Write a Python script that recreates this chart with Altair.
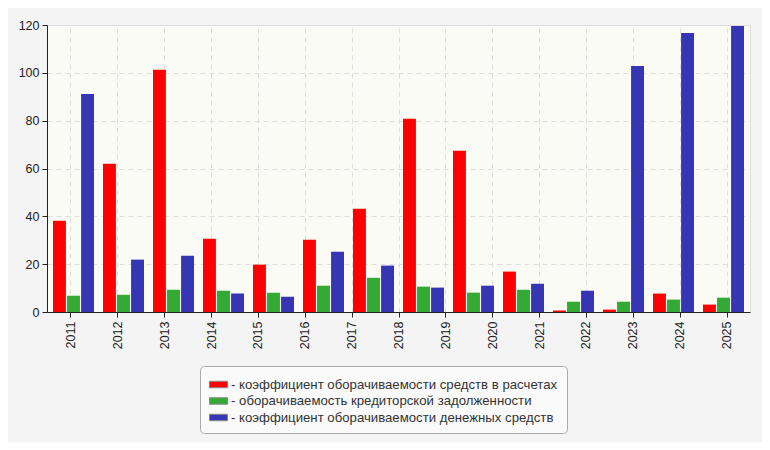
import altair as alt
import pandas as pd

# 14 data groups drawn as bars, 15 labels on the axis (as in the reference)
groups = [f"g{i}" for i in range(1, 15)]
year_labels = [str(y) for y in range(2011, 2026)]

series_names = [
    "коэффициент оборачиваемости средств в расчетах",
    "оборачиваемость кредиторской задолженности",
    "коэффициент оборачиваемости денежных средств",
]
colors = ["#FF0000", "#33AA33", "#3636B4"]

red_values = [38.2, 62.0, 101.3, 30.6, 19.8, 30.2, 43.2, 80.8, 67.4, 16.9, 0.6, 1.0, 7.7, 3.1]
green_values = [6.8, 7.2, 9.3, 8.9, 8.1, 11.0, 14.3, 10.6, 8.1, 9.3, 4.3, 4.3, 5.2, 6.0]
blue_values = [91.2, 21.9, 23.5, 7.7, 6.4, 25.2, 19.4, 10.2, 11.0, 11.8, 8.9, 102.9, 116.7, 119.6]

rows = []
for vals, name in zip([red_values, green_values, blue_values], series_names):
    for g, v in zip(groups, vals):
        rows.append({"group": g, "series": name, "value": v})
bars_df = pd.DataFrame(rows)
axis_df = pd.DataFrame({"year": year_labels})

FONT = "Liberation Sans"

bars = alt.Chart(bars_df).mark_bar().encode(
    x=alt.X("group:N", sort=groups, axis=None,
            scale=alt.Scale(paddingInner=0.18, paddingOuter=0.12)),
    xOffset=alt.XOffset("series:N", sort=series_names,
                        scale=alt.Scale(paddingInner=0.08)),
    y=alt.Y("value:Q", title=None,
            scale=alt.Scale(domain=[0, 120], nice=False),
            axis=alt.Axis(values=[0, 20, 40, 60, 80, 100, 120], grid=True,
                          gridDash=[5, 4], gridColor="#DDDDDD",
                          domainColor="#222222", tickColor="#222222",
                          tickSize=5, labelFont=FONT, labelFontSize=12.5,
                          labelColor="#222222", labelPadding=3)),
    color=alt.Color("series:N", sort=series_names,
                    scale=alt.Scale(domain=series_names, range=colors),
                    legend=alt.Legend(title=None, orient="none",
                                      legendX=153, legendY=341,
                                      labelExpr="'- ' + datum.label",
                                      labelLimit=0,
                                      symbolType="M-1,-0.36H1V0.36H-1Z",
                                      symbolSize=324,
                                      symbolStrokeColor="#888888",
                                      symbolStrokeWidth=1,
                                      labelFont=FONT, labelFontSize=13.2,
                                      labelColor="#333333", labelOffset=3,
                                      rowPadding=0.5,
                                      padding=9,
                                      strokeColor="#AAAAAA",
                                      fillColor="#FAFAFA",
                                      cornerRadius=4)),
)

axis_layer = alt.Chart(axis_df).mark_point(opacity=0).encode(
    x=alt.X("year:N", sort=year_labels, title=None,
            scale=alt.Scale(type="point", padding=0.5),
            axis=alt.Axis(labelAngle=270, grid=True, gridDash=[5, 4],
                          gridColor="#DDDDDD", domainColor="#222222",
                          tickColor="#222222", tickSize=5,
                          labelFont=FONT, labelFontSize=12.5,
                          labelColor="#222222", labelPadding=4)),
)

chart = alt.layer(axis_layer, bars).resolve_scale(x="independent").properties(
    width=703,
    height=287,
    autosize=alt.AutoSizeParams(type="none"),
    padding={"left": 39, "top": 17, "right": 12, "bottom": 130},
    background="#F4F4F4",
).configure_view(
    fill="#FBFBF5",
    stroke="#DDDDDD",
)

chart.save("out.html", embed_options={"renderer": "svg", "actions": False})
